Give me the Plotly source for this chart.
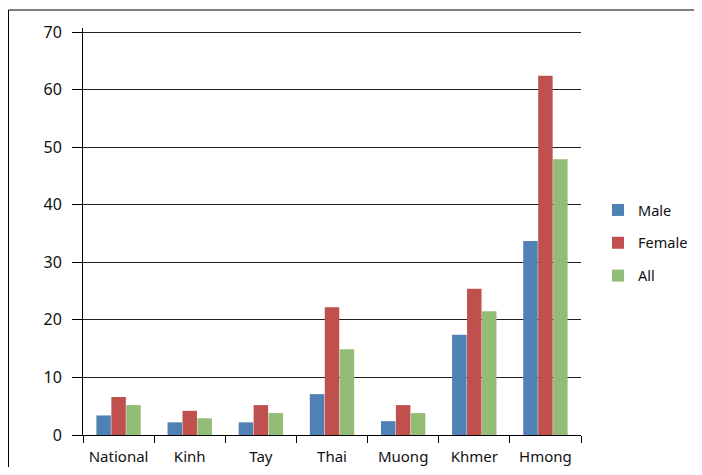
import plotly.graph_objects as go

categories = ["National", "Kinh", "Tay", "Thai", "Muong", "Khmer", "Hmong"]
male = [3.4, 2.2, 2.2, 7.1, 2.4, 17.4, 33.7]
female = [6.6, 4.2, 5.2, 22.2, 5.2, 25.4, 62.4]
all_ = [5.2, 2.9, 3.8, 14.9, 3.8, 21.5, 47.9]
y_ticks = [0, 10, 20, 30, 40, 50, 60, 70]

FONT = "Noto Sans"
W, H = 686, 459
L, R, T, B = 75, 113, 20, 32
PW, PH = W - L - R, H - T - B

fig = go.Figure()
for name, vals, col in [("Male", male, "#4F81B5"), ("Female", female, "#C0504D"), ("All", all_, "#93BC76")]:
    fig.add_trace(go.Bar(x=categories, y=vals, name=name, marker_color=col,
                         marker_line_width=0, legendgroup=name))

bx0 = (0.5 - L) / PW
by1 = 1 + (T - 2) / PH
fig.update_layout(
    width=W, height=H,
    margin=dict(l=L, r=R, t=T, b=B, autoexpand=False),
    paper_bgcolor="white", plot_bgcolor="white",
    barmode="group", bargap=0.37, bargroupgap=0.03,
    font=dict(family=FONT, size=15, color="#111"),
    legend=dict(x=(590 - L) / PW, y=(427 - 235) / PH, xanchor="left", yanchor="middle",
                traceorder="grouped", tracegroupgap=11,
                font=dict(family=FONT, size=14.5, color="#111"),
                itemwidth=30, bgcolor="rgba(0,0,0,0)"),
    xaxis=dict(showline=True, linecolor="black", linewidth=1,
               ticks="outside", ticklen=7, tickcolor="black", tickson="boundaries",
               showgrid=False, tickfont=dict(size=15), ticklabelstandoff=8),
    yaxis=dict(range=[0, 70.7], tickvals=y_ticks, showline=True, linecolor="black",
               linewidth=1, ticks="outside", ticklen=10, tickcolor="black",
               showgrid=True, gridcolor="#222", gridwidth=1, zeroline=False,
               tickfont=dict(size=16), ticklabelstandoff=7),
    shapes=[
        dict(type="line", xref="paper", yref="paper", x0=bx0, x1=bx0,
             y0=-(B + 5) / PH, y1=by1, line=dict(color="black", width=1), layer="below"),
        dict(type="line", xref="paper", yref="paper", x0=bx0, x1=(W + 5 - L) / PW,
             y0=by1, y1=by1, line=dict(color="black", width=1), layer="below"),
    ],
)
fig.write_html("out.html")
